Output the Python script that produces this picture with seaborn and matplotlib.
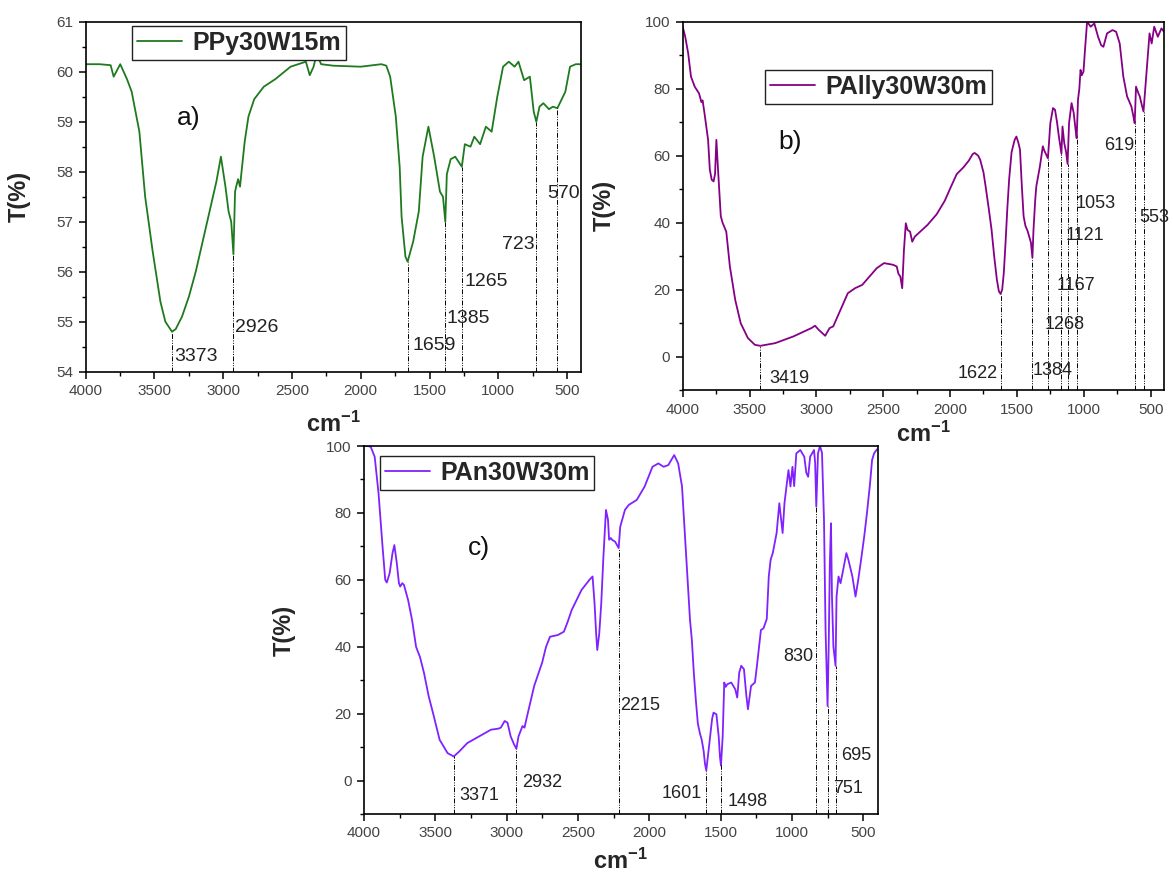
import numpy as np
import pandas as pd
import matplotlib
matplotlib.use("Agg")
import matplotlib.pyplot as plt
from matplotlib.ticker import MultipleLocator
import seaborn as sns

# === spectra (wavenumber in cm-1, transmittance in %) ===
a_wn = [4000, 3900, 3819, 3797, 3749, 3700, 3666, 3610, 3568, 3513, 3457, 3421, 3373, 3346,
        3300, 3250, 3200, 3150, 3100, 3050, 3017, 2984, 2961, 2942, 2926, 2914, 2906, 2892,
        2878, 2867, 2844, 2817, 2775, 2705, 2622, 2510, 2399, 2371, 2343, 2321, 2288, 2200,
        2000, 1850, 1814, 1786, 1745, 1717, 1703, 1675, 1659, 1619, 1578, 1550, 1508, 1466,
        1424, 1402, 1385, 1374, 1346, 1313, 1265, 1243, 1202, 1174, 1132, 1090, 1048, 1007,
        965, 923, 881, 853, 812, 770, 742, 723, 700, 672, 631, 603, 570, 512, 478, 436, 400]
a_t = [60.15, 60.15, 60.13, 59.9, 60.15, 59.85, 59.6, 58.8, 57.5, 56.4, 55.4, 55.0, 54.8, 54.85,
       55.1, 55.5, 56.0, 56.6, 57.2, 57.8, 58.3, 57.7, 57.2, 57.0, 56.35, 57.6, 57.7, 57.85,
       57.7, 58.0, 58.6, 59.1, 59.45, 59.7, 59.85, 60.1, 60.2, 59.93, 60.1, 60.35, 60.15, 60.12,
       60.1, 60.15, 60.12, 59.9, 59.1, 58.1, 57.1, 56.3, 56.2, 56.6, 57.2, 58.3, 58.9, 58.3,
       57.6, 57.5, 57.0, 57.95, 58.25, 58.3, 58.1, 58.55, 58.5, 58.7, 58.55, 58.9, 58.8, 59.5,
       60.1, 60.2, 60.1, 60.2, 59.83, 59.9, 59.2, 59.0, 59.3, 59.37, 59.25, 59.3, 59.27, 59.6,
       60.1, 60.15, 60.15]
a_peaks = [3373, 2926, 1659, 1385, 1265, 723, 570]

b_wn = [4000, 3981, 3959, 3938, 3910, 3878, 3860, 3851, 3837, 3810, 3797, 3783, 3769, 3758,
        3748, 3737, 3715, 3702, 3674, 3647, 3607, 3566, 3512, 3460, 3419, 3308, 3172, 3037,
        3010, 2983, 2934, 2901, 2874, 2820, 2765, 2711, 2657, 2603, 2548, 2494, 2426, 2399,
        2386, 2372, 2358, 2345, 2331, 2318, 2299, 2283, 2264, 2223, 2169, 2100, 2040, 1990,
        1950, 1900, 1860, 1830, 1816, 1790, 1775, 1750, 1734, 1710, 1690, 1670, 1650, 1635,
        1622, 1610, 1598, 1585, 1572, 1558, 1540, 1517, 1504, 1490, 1477, 1463, 1450, 1436,
        1420, 1409, 1395, 1384, 1376, 1363, 1355, 1328, 1306, 1295, 1287, 1268, 1250, 1230,
        1215, 1200, 1186, 1167, 1159, 1146, 1132, 1121, 1110, 1091, 1075, 1062, 1053, 1043,
        1033, 1024, 1015, 1002, 990, 975, 948, 921, 893, 870, 853, 826, 785, 758, 731, 704,
        676, 644, 630, 619, 609, 590, 581, 565, 553, 527, 508, 492, 473, 446, 419, 400]
b_t = [98.5, 95.5, 90.6, 83.6, 80.6, 78.6, 76.0, 76.5, 72.7, 64.7, 55.8, 52.8, 52.3, 54.5,
       64.7, 56.8, 41.9, 40.0, 37.3, 26.9, 16.9, 9.95, 5.5, 3.5, 3.2, 4.0, 6.0, 8.5,
       9.2, 8.0, 6.2, 8.5, 9.0, 13.9, 18.9, 20.4, 21.4, 23.9, 26.4, 27.9, 27.4, 26.9,
       24.7, 23.9, 20.4, 31.8, 39.8, 37.8, 37.3, 34.3, 35.8, 37.3, 39.3, 42.5, 46.5, 51.0,
       54.5, 56.5, 58.5, 60.5, 60.8, 60.0, 58.8, 55.0, 50.8, 44.0, 38.0, 30.0, 23.0, 19.5,
       18.7, 20.0, 25.0, 34.0, 44.0, 53.0, 61.0, 64.7, 65.7, 64.0, 61.8, 50.8, 41.9, 39.0,
       37.5, 36.0, 34.0, 29.5, 37.8, 46.8, 50.8, 56.8, 62.8, 61.5, 60.8, 59.2, 69.7, 74.2,
       73.7, 70.0, 65.7, 60.6, 68.7, 63.8, 61.0, 57.5, 69.7, 75.7, 72.7, 68.0, 65.2, 76.7,
       80.0, 85.6, 84.0, 85.1, 92.0, 100.0, 98.5, 99.5, 95.5, 93.0, 92.5, 96.5, 97.5, 97.0, 93.5, 83.6,
       77.7, 74.7, 72.0, 69.7, 80.6, 78.5, 77.7, 75.0, 73.2, 86.6, 96.5, 93.5, 98.5, 95.5, 98.0, 97.0]
b_peaks = [3419, 1622, 1384, 1268, 1167, 1121, 1053, 619, 553]

c_wn = [4000, 3975, 3953, 3925, 3898, 3870, 3851, 3840, 3820, 3800, 3787, 3770, 3755, 3746,
        3732, 3720, 3691, 3663, 3635, 3622, 3608, 3580, 3547, 3511, 3470, 3414, 3371, 3332,
        3276, 3193, 3110, 3060, 3041, 3014, 2994, 2972, 2950, 2932, 2917, 2889, 2875, 2862,
        2807, 2751, 2724, 2696, 2641, 2599, 2572, 2544, 2475, 2420, 2398, 2384, 2373, 2365,
        2351, 2337, 2323, 2304, 2290, 2282, 2270, 2262, 2240, 2215, 2204, 2171, 2144, 2088,
        2033, 1978, 1937, 1900, 1867, 1826, 1798, 1771, 1743, 1715, 1702, 1688, 1674, 1660,
        1645, 1633, 1620, 1610, 1601, 1590, 1577, 1560, 1550, 1530, 1514, 1505, 1498, 1490,
        1486, 1475, 1465, 1453, 1426, 1398, 1384, 1370, 1356, 1337, 1320, 1309, 1287, 1260,
        1246, 1218, 1200, 1177, 1163, 1150, 1135, 1108, 1089, 1066, 1053, 1039, 1025, 1011,
        997, 985, 970, 942, 914, 900, 887, 873, 846, 838, 830, 818, 804, 790, 776, 765,
        751, 743, 735, 727, 720, 710, 695, 688, 674, 660, 646, 619, 605, 577, 555, 536,
        516, 494, 475, 453, 439, 425, 405]
c_t = [100, 100, 99.8, 96.8, 85.9, 70.0, 60.0, 59.2, 62.0, 68.0, 70.4, 65.0, 59.0, 58.0,
       59.0, 58.5, 54.0, 48.0, 40.0, 38.5, 37.0, 32.3, 25.3, 19.3, 12.2, 8.2, 7.2, 8.7,
       11.2, 13.2, 15.2, 15.5, 15.8, 17.8, 17.3, 13.2, 11.0, 9.5, 13.2, 16.3, 15.8, 18.3,
       28.3, 35.3, 40.0, 43.0, 43.5, 44.5, 47.5, 51.0, 57.0, 60.0, 61.0, 53.0, 44.0, 39.0,
       44.0, 53.0, 66.0, 80.9, 78.0, 72.0, 72.5, 72.0, 71.4, 69.5, 75.9, 80.9, 82.4, 83.9,
       87.9, 93.8, 94.8, 93.8, 94.3, 97.3, 94.8, 87.9, 68.0, 48.0, 42.0, 32.0, 24.0, 17.0,
       14.0, 12.2, 9.0, 5.0, 3.0, 7.0, 12.0, 18.5, 20.3, 19.8, 13.2, 7.0, 4.5, 10.0,
       13.2, 29.3, 28.0, 28.8, 29.3, 27.3, 24.8, 32.3, 34.3, 33.3, 25.3, 21.3, 28.3, 29.3,
       34.3, 45.0, 45.5, 48.3, 61.0, 66.0, 68.0, 74.0, 82.9, 74.0, 82.9, 87.9, 92.8, 87.9,
       93.8, 88.0, 97.8, 98.8, 96.8, 92.0, 90.8, 96.8, 98.8, 95.0, 81.9, 97.8, 100.0, 98.0, 77.9, 45.0,
       22.3, 40.0, 65.0, 76.9, 55.0, 40.0, 34.3, 55.0, 61.0, 59.0, 62.0, 68.0, 66.0, 61.0, 55.0, 60.0,
       66.0, 73.0, 79.9, 88.9, 95.8, 97.8, 99.0]
c_peaks = [3371, 2932, 2215, 1601, 1498, 830, 751, 695]

# label placement (text, x, y, ha)
a_notes = [("3373", 3360, 54.3, "left"), ("2926", 2915, 54.89, "left"), ("1659", 1625, 54.53, "left"),
           ("1385", 1374, 55.07, "left"), ("1265", 1249, 55.8, "left"), ("723", 734, 56.55, "right"),
           ("570", 645, 57.57, "left")]
b_notes = [("3419", 3349, -6.7, "left"), ("1622", 1645, -5.1, "right"), ("1384", 1382, -4.3, "left"),
           ("1268", 1295, 9.5, "left"), ("1167", 1205, 21.1, "left"), ("1121", 1137, 36.0, "left"),
           ("1053", 1062, 45.7, "left"), ("619", 622, 63.0, "right"), ("553", 587, 41.4, "left")]
c_notes = [("3371", 3332, -4.6, "left"), ("2932", 2895, -0.5, "left"), ("2215", 2204, 22.5, "left"),
           ("1601", 1633, -4.0, "right"), ("1498", 1453, -6.3, "left"), ("830", 851, 37.0, "right"),
           ("751", 711, -2.3, "left"), ("695", 657, 7.4, "left")]

sns.set_theme(style="ticks")
plt.rcParams["font.family"] = ["Liberation Sans", "DejaVu Sans"]
plt.rcParams["mathtext.fontset"] = "custom"
plt.rcParams["mathtext.rm"] = "Liberation Sans"
plt.rcParams["mathtext.bf"] = "Liberation Sans:bold"

fig = plt.figure(figsize=(11.73, 8.82), dpi=100)
fig.patch.set_facecolor("white")

DASH = (0, (5, 1.5, 1, 1.5, 1, 1.5))


def panel(rect, wn, t, peaks, notes, color, name, ylim, ymaj, ymin, letter, letter_xy,
          leg_xy, ylab_x, xlab_y, note_fs):
    ax = fig.add_axes(rect)
    df = pd.DataFrame({"wn": wn, "T": t})
    sns.lineplot(data=df, x="wn", y="T", ax=ax, color=color, lw=1.3, label=name,
                 sort=False, estimator=None)
    ax.set_xlim(4000, 400)
    ax.set_ylim(*ylim)
    ax.xaxis.set_major_locator(MultipleLocator(500))
    ax.xaxis.set_minor_locator(MultipleLocator(250))
    ax.yaxis.set_major_locator(MultipleLocator(ymaj))
    ax.yaxis.set_minor_locator(MultipleLocator(ymin))
    ax.tick_params(which="major", direction="out", length=5, width=1.1, colors="black",
                   labelcolor="#444444", labelsize=11, pad=4)
    ax.tick_params(which="minor", direction="out", length=3, width=1.0, colors="black")
    for s in ax.spines.values():
        s.set_visible(True)
        s.set_linewidth(1.2)
        s.set_color("black")

    # dotted drop lines from each band down to the x axis
    tops = np.interp(peaks, wn[::-1], t[::-1])
    ax.vlines(peaks, ylim[0], tops, colors="black", linestyles=[DASH], lw=0.7)
    for txt, x, y, ha in notes:
        ax.text(x, y, txt, ha=ha, va="center", fontsize=note_fs, color="#222222")

    ax.text(letter_xy[0], letter_xy[1], letter, fontsize=19, color="#111111",
            ha="left", va="center")
    ax.set_xlabel(r"$\mathbf{cm^{-1}}$", fontsize=17)
    ax.set_ylabel("T(%)", fontsize=17, fontweight="bold")
    ax.yaxis.set_label_coords(ylab_x, 0.5)
    ax.xaxis.set_label_coords(0.5, xlab_y)

    leg = ax.legend(loc="upper left", bbox_to_anchor=leg_xy, frameon=True, fancybox=False,
                    edgecolor="#222222", framealpha=1, handlelength=1.8, handletextpad=0.4,
                    borderpad=0.2, borderaxespad=0,
                    prop={"weight": "bold", "size": 18})
    leg.get_frame().set_linewidth(1.0)
    return ax


panel([0.0731, 0.5786, 0.4220, 0.3968], a_wn, a_t, a_peaks, a_notes, "#1f7a1f", "PPy30W15m",
      (54, 61), 1, 0.5, "a)", (3336, 59.07), (0.0935, 0.988), -0.112, -0.115, 14)
panel([0.5820, 0.5578, 0.4103, 0.4176], b_wn, b_t, b_peaks, b_notes, "#850085", "PAlly30W30m",
      (-10, 100), 20, 10, "b)", (3282, 64.1), (0.171, 0.869), -0.139, -0.085, 13)
panel([0.3103, 0.0771, 0.4379, 0.4172], c_wn, c_t, c_peaks, c_notes, "#7f22ff", "PAn30W30m",
      (-10, 100), 20, 10, "c)", (3269, 69.5), (0.031, 0.973), -0.132, -0.095, 13)

fig.savefig("out.png", dpi=100, facecolor="white")
